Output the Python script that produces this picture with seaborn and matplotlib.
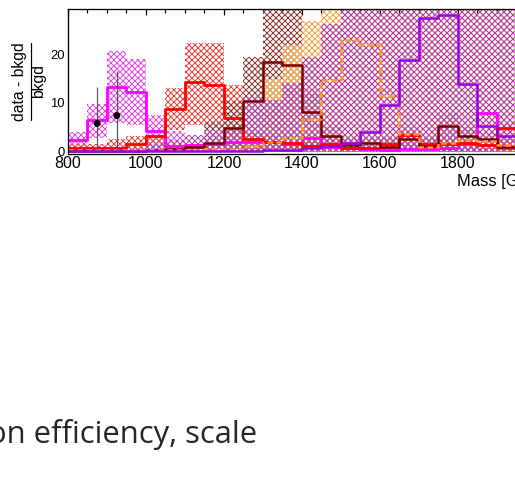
import numpy as np
import pandas as pd
import matplotlib
matplotlib.use("Agg")
import matplotlib.pyplot as plt
from matplotlib.lines import Line2D
from matplotlib.ticker import MultipleLocator
import seaborn as sns

DPI = 108
W, H = 515, 486


def pt(pixels):
    """Convert a size in output pixels to points."""
    return pixels * 72.0 / DPI


# ---------------------------------------------------------------- data
# lower edges of the 50 GeV mass bins
mass_bins = [800, 850, 900, 950, 1000, 1050, 1100, 1150, 1200, 1250, 1300, 1350,
             1400, 1450, 1500, 1550, 1600, 1650, 1700, 1750, 1800, 1850, 1900, 1950]
bin_width = 50

# (data - bkgd) / bkgd for each signal hypothesis
sig_magenta = [2.4, 6.4, 13.3, 12.2, 4.2, 1.2, 1.4, 1.6, 2.0, 2.0, 2.0, 1.5,
               2.7, 1.0, 0.8, 0.6, 0.3, 0.5, 0.6, 0.8, 1.5, 8.0, 0.8, 0.8]
sig_red = [0.8, 0.8, 0.8, 1.6, 3.2, 8.7, 14.2, 13.6, 7.0, 2.5, 2.0, 1.7,
           1.2, 1.5, 0.8, 0.8, 1.6, 3.4, 1.5, 1.5, 1.8, 1.3, 4.9, 4.9]
sig_maroon = [0.1, 0.1, 0.1, 0.1, 0.3, 0.5, 0.9, 1.7, 4.9, 10.3, 18.4, 17.8,
              8.2, 3.1, 1.4, 1.8, 1.0, 2.5, 1.2, 5.3, 3.1, 2.5, 1.0, 1.0]
sig_orange = [0.3, 0.3, 0.3, 0.3, 0.3, 0.3, 0.4, 0.5, 0.6, 1.2, 2.0, 2.7,
              6.7, 14.7, 22.9, 22.0, 11.5, 3.6, 1.0, 1.7, 2.4, 2.1, 1.4, 1.4]
sig_purple = [0.2, 0.2, 0.2, 0.2, 0.2, 0.2, 0.2, 0.2, 0.2, 0.2, 0.3, 0.4,
              0.8, 1.2, 1.8, 4.1, 9.6, 18.8, 27.4, 28.1, 13.8, 5.3, 3.1, 2.5]

# uncertainty bands (lower / upper edge per bin)
band_magenta_lo = [0.7, 2.8, 5.9, 5.4, 1.0, 0, 0, 0, 0, 0, 0, 0,
                   0, 0, 0, 0, 0, 0, 0, 0, 0, 0, 0, 0]
band_magenta_hi = [4.1, 9.8, 20.7, 19.0, 7.5, 4.3, 1.5, 1.5, 1.5, 1.5, 1.5, 1.5,
                   1.5, 1.5, 1.5, 1.5, 1.5, 1.5, 1.5, 1.5, 1.5, 1.5, 1.5, 1.5]
band_red_lo = [0, 0, 0, 0, 0, 4.4, 5.5, 4.9, 0.3, 0, 0, 0,
               0, 0, 0, 0, 0, 0, 0, 0, 0, 0, 0, 0]
band_red_hi = [1.5, 1.5, 2.5, 3.3, 3.0, 13.0, 22.3, 22.3, 13.7, 4.0, 3.5, 3.0,
               3.0, 3.0, 2.0, 2.0, 3.0, 5.0, 3.0, 3.0, 3.0, 3.0, 6.0, 6.0]
band_maroon_lo = [0, 0, 0, 0, 0, 0, 0, 0, 0, 0, 0, 0,
                  0, 0, 0, 0, 0, 0, 0, 0, 0, 0, 0, 0]
band_maroon_hi = [0.5, 0.5, 0.5, 0.5, 0.5, 0.5, 1.0, 6.0, 10.3, 19.5, 30.0, 30.0,
                  12.0, 5.0, 3.0, 3.0, 3.0, 4.0, 3.0, 8.0, 5.0, 4.0, 3.0, 3.0]
band_orange_lo = [0, 0, 0, 0, 0, 0, 0, 0, 0, 0, 0, 0,
                  0, 0, 0, 0, 0, 0, 0, 0, 0, 0, 0, 0]
band_orange_hi = [0.5, 0.5, 0.5, 0.5, 0.5, 0.5, 0.5, 0.5, 0.5, 1.5, 15.0, 22.0,
                  26.9, 30.0, 30.0, 30.0, 30.0, 30.0, 30.0, 30.0, 30.0, 30.0, 30.0, 30.0]
band_purple_lo = [0, 0, 0, 0, 0, 0, 0, 0, 0, 0, 0, 0,
                  0, 0, 0, 0, 0, 0, 0, 0, 0, 0, 0, 0]
band_purple_hi = [1.0, 1.0, 1.0, 1.0, 1.5, 2.4, 3.4, 4.5, 4.5, 11.3, 10.6, 14.0,
                  19.4, 26.3, 30.0, 30.0, 30.0, 30.0, 30.0, 30.0, 30.0, 30.0, 30.0, 30.0]

# observed points
data_mass = [875, 925]
data_ratio = [5.8, 7.4]
data_err_down = [5.8, 7.4]
data_err_up = [7.4, 9.2]

x_ticks = [800, 1000, 1200, 1400, 1600, 1800, 2000]
y_ticks = [0, 10, 20]

# ---------------------------------------------------------------- style
sns.set_theme(style="white")
plt.rcParams["font.family"] = ["Liberation Sans", "DejaVu Sans"]
plt.rcParams["hatch.linewidth"] = pt(1.0)
plt.rcParams["axes.edgecolor"] = "black"
plt.rcParams["xtick.color"] = "black"
plt.rcParams["ytick.color"] = "black"

fig = plt.figure(figsize=(W / DPI, H / DPI), dpi=DPI)
fig.patch.set_facecolor("white")

# frame runs 800-2000 GeV; its right end lies past the canvas edge
ax_left, ax_right, ax_top, ax_bottom = 68, 536, 9, 154
ax = fig.add_axes([ax_left / W, 1 - ax_bottom / H,
                   (ax_right - ax_left) / W, (ax_bottom - ax_top) / H])
ax.set_facecolor("white")

edges = mass_bins + [mass_bins[-1] + bin_width]
centers = [m + bin_width / 2 for m in mass_bins]

HATCH = "xxxxxx"


def draw_band(lo, hi, color):
    ax.fill_between(edges, lo + [lo[-1]], hi + [hi[-1]], step="post",
                    facecolor="none", edgecolor=color, hatch=HATCH,
                    linewidth=0, zorder=1)


def draw_step(values, color, lw, ls="-"):
    df = pd.DataFrame({"mass": centers, "ratio": values})
    sns.histplot(data=df, x="mass", weights="ratio", bins=edges,
                 element="step", fill=False, color=color,
                 linewidth=pt(lw), linestyle=ls, ax=ax, zorder=3)


# hatched bands, later ones painted over earlier ones
draw_band(band_magenta_lo, band_magenta_hi, "#e24ae2")
draw_band(band_red_lo, band_red_hi, "#e5443b")
draw_band(band_maroon_lo, band_maroon_hi, "#8e3b36")
draw_band(band_orange_lo, band_orange_hi, "#f2a640")
draw_band(band_purple_lo, band_purple_hi, "#b23cb0")

# signal step histograms
draw_step(sig_magenta, "#ff00ff", 2.8)
draw_step(sig_red, "#ff0000", 2.8)
draw_step(sig_maroon, "#7a0000", 2.5)
draw_step(sig_orange, "#ff9a1a", 2.5, ls=(0, (2.2, 1.4)))
draw_step(sig_purple, "#9a00e8", 2.5)

# observed data
ax.errorbar(data_mass, data_ratio, yerr=[data_err_down, data_err_up], fmt="none",
            ecolor="#555555", elinewidth=pt(1.2), capsize=0, zorder=4)
sns.scatterplot(x=data_mass, y=data_ratio, color="black", s=pt(7) ** 2,
                edgecolor="none", ax=ax, zorder=5)

# ---------------------------------------------------------------- axes
ax.set_xlim(800, 2000)
ax.set_ylim(-0.5, 29.3)
ax.set_xlabel("")
ax.set_ylabel("")
ax.set_xticks(x_ticks)
ax.set_yticks(y_ticks)
ax.xaxis.set_minor_locator(MultipleLocator(50))
ax.yaxis.set_minor_locator(MultipleLocator(2))
ax.tick_params(axis="both", which="both", direction="in", top=True, right=True,
               width=pt(1.2), color="black")
ax.tick_params(axis="x", which="major", length=pt(6), labelsize=pt(16), pad=pt(1.5))
ax.tick_params(axis="x", which="minor", length=pt(3.5))
ax.tick_params(axis="y", which="major", length=pt(12), labelsize=pt(13), pad=pt(3))
ax.tick_params(axis="y", which="minor", length=pt(6))
for side in ax.spines.values():
    side.set_visible(True)
    side.set_color("black")
    side.set_linewidth(pt(1.3))
    side.set_zorder(6)

# axis titles
fig.text(457 / W, 1 - 186 / H, "Mass [GeV]", fontsize=pt(16.5),
         ha="left", va="baseline", color="black")
fig.text(20 / W, 1 - 81.5 / H, "data - bkgd", rotation=90, fontsize=pt(15.8),
         ha="center", va="center", color="black")
fig.text(38.5 / W, 1 - 81.5 / H, "bkgd", rotation=90, fontsize=pt(15.8),
         ha="center", va="center", color="black")
fig.add_artist(Line2D([30.7 / W, 30.7 / W], [1 - 43 / H, 1 - 120 / H],
                      transform=fig.transFigure, color="black", linewidth=pt(1.2)))

# caption line below the chart
fig.text(-12 / W, 1 - 443 / H, "on efficiency, scale", fontsize=pt(31),
         family=["Open Sans", "DejaVu Sans"], color="#262626",
         ha="left", va="baseline")

fig.savefig("out.png", dpi=DPI)
